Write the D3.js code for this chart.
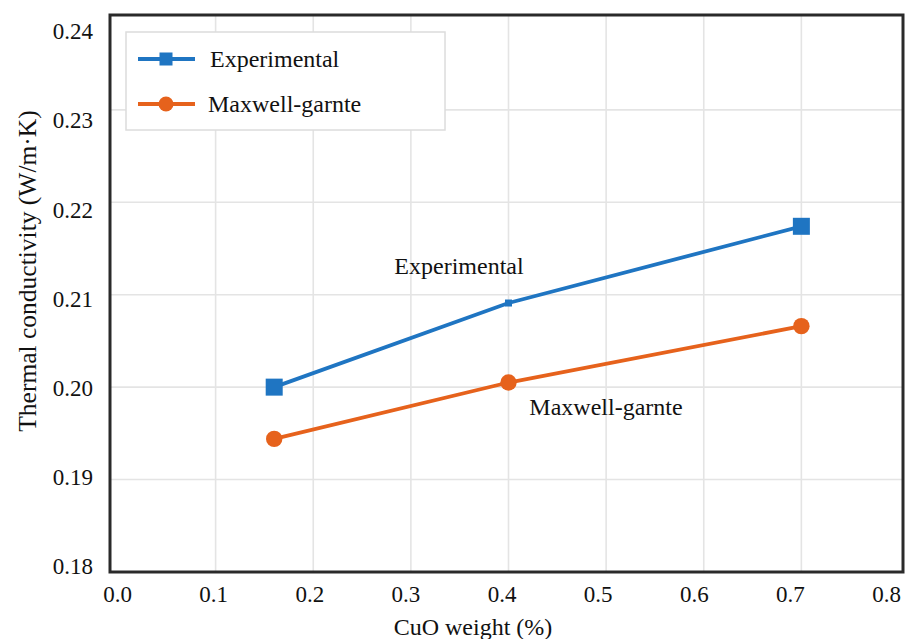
<!DOCTYPE html>
<html>
<head>
<meta charset="utf-8">
<script src="https://cdn.jsdelivr.net/npm/d3@7"></script>
<style>
  html, body { margin: 0; padding: 0; background: #fff; }
  svg { display: block; }
  svg text { font-family: "Liberation Serif", "Tinos", "Times New Roman", Times, "DejaVu Serif", serif !important; }
</style>
</head>
<body>
<svg id="chart" width="905" height="639"></svg>
<script>
// CuO loading (wt %) and measured / modelled thermal conductivity
const cuoWeight = [0.16, 0.4, 0.7];
const experimental = [0.2000, 0.2091, 0.2174];
const maxwellGarnett = [0.1944, 0.2005, 0.2066];
const xTicks = [0, 0.1, 0.2, 0.3, 0.4, 0.5, 0.6, 0.7, 0.8];
const yTicks = [0.18, 0.19, 0.20, 0.21, 0.22, 0.23, 0.24];
const seriesNames = ["Experimental", "Maxwell-garnte"];

const blue = "#1f75c2";
const orange = "#e6621c";

const svg = d3.select("#chart");
const frame = { left: 110, right: 903, top: 15, bottom: 572 };

// data / grid scales
const x = d3.scaleLinear().domain([0, 0.8]).range([118, 899]);
const y = d3.scaleLinear().domain([0.18, 0.24]).range([572, 17.4]);
// tick-label placement scales
const xLabel = d3.scaleLinear().domain([0, 0.8]).range([117, 886]);
const yLabel = d3.scaleLinear().domain([0.18, 0.24]).range([566, 31]);

// grid
const grid = svg.append("g").attr("stroke", "#e4e4e4").attr("stroke-width", 1.6);
grid.selectAll("line.v").data(xTicks.filter(d => d > 0 && d < 0.8)).join("line")
  .attr("x1", d => x(d)).attr("x2", d => x(d))
  .attr("y1", frame.top).attr("y2", frame.bottom);
grid.selectAll("line.h").data(yTicks.filter(d => d > 0.18 && d < 0.24)).join("line")
  .attr("x1", frame.left).attr("x2", frame.right)
  .attr("y1", d => y(d)).attr("y2", d => y(d));

// tick labels
const xAxis = d3.axisBottom(xLabel).tickValues(xTicks).tickFormat(d3.format(".1f")).tickSize(0).tickPadding(0);
svg.append("g").attr("transform", `translate(0,${frame.bottom})`).call(xAxis)
  .call(g => g.select(".domain").remove())
  .selectAll("text")
  .attr("font-size", 23)
  .attr("fill", "#111").attr("dy", null).attr("y", 30);

const yAxis = d3.axisLeft(yLabel).tickValues(yTicks).tickFormat(d3.format(".2f")).tickSize(0).tickPadding(0);
svg.append("g").attr("transform", "translate(93,0)").call(yAxis)
  .call(g => g.select(".domain").remove())
  .selectAll("text")
  .attr("font-size", 23)
  .attr("fill", "#111").attr("dy", "0.34em");

// series
const line = d3.line().x((d, i) => x(cuoWeight[i])).y(d => y(d));
svg.append("path").datum(experimental).attr("d", line)
  .attr("fill", "none").attr("stroke", blue).attr("stroke-width", 3.8);
svg.append("path").datum(maxwellGarnett).attr("d", line)
  .attr("fill", "none").attr("stroke", orange).attr("stroke-width", 3.8);

// square markers for experimental points (middle one drawn small)
const squareSize = [17, 7, 17];
svg.append("g").selectAll("rect").data(experimental).join("rect")
  .attr("x", (d, i) => x(cuoWeight[i]) - squareSize[i] / 2)
  .attr("y", (d, i) => y(d) - squareSize[i] / 2)
  .attr("width", (d, i) => squareSize[i]).attr("height", (d, i) => squareSize[i])
  .attr("fill", blue);

svg.append("g").selectAll("circle").data(maxwellGarnett).join("circle")
  .attr("cx", (d, i) => x(cuoWeight[i])).attr("cy", d => y(d)).attr("r", 8.2)
  .attr("fill", orange);

// in-plot series labels
svg.append("text").attr("x", 459).attr("y", 274).attr("text-anchor", "middle")
  .attr("font-size", 24).attr("fill", "#111").text(seriesNames[0]);
svg.append("text").attr("x", 606).attr("y", 415).attr("text-anchor", "middle")
  .attr("font-size", 24).attr("fill", "#111").text(seriesNames[1]);

// legend
const lg = svg.append("g");
lg.append("rect").attr("x", 126).attr("y", 32).attr("width", 319).attr("height", 98)
  .attr("fill", "#fff").attr("stroke", "#dcdcdc").attr("stroke-width", 1.5);
const legendRows = [
  { name: seriesNames[0], color: blue, cy: 59, shape: "square", tx: 210 },
  { name: seriesNames[1], color: orange, cy: 104, shape: "circle", tx: 208 }
];
legendRows.forEach(r => {
  lg.append("line").attr("x1", 138).attr("x2", 195).attr("y1", r.cy).attr("y2", r.cy)
    .attr("stroke", r.color).attr("stroke-width", 4.2);
  if (r.shape === "square") {
    lg.append("rect").attr("x", 166 - 6.5).attr("y", r.cy - 6.5).attr("width", 13).attr("height", 13).attr("fill", r.color);
  } else {
    lg.append("circle").attr("cx", 166).attr("cy", r.cy).attr("r", 7.5).attr("fill", r.color);
  }
  lg.append("text").attr("x", r.tx).attr("y", r.cy + 7.5).attr("font-size", 24).attr("fill", "#111").text(r.name);
});

// plot frame
svg.append("rect").attr("x", frame.left).attr("y", frame.top)
  .attr("width", frame.right - frame.left).attr("height", frame.bottom - frame.top)
  .attr("fill", "none").attr("stroke", "#2a2a2a").attr("stroke-width", 3);

// axis titles
svg.append("text").attr("x", 473).attr("y", 635).attr("text-anchor", "middle")
  .attr("font-size", 24).attr("fill", "#111").text("CuO weight (%)");
svg.append("text").attr("transform", "translate(36,271) rotate(-90)").attr("text-anchor", "middle")
  .attr("font-size", 25.5).attr("fill", "#111").text("Thermal conductivity (W/m·K)");
</script>
</body>
</html>
